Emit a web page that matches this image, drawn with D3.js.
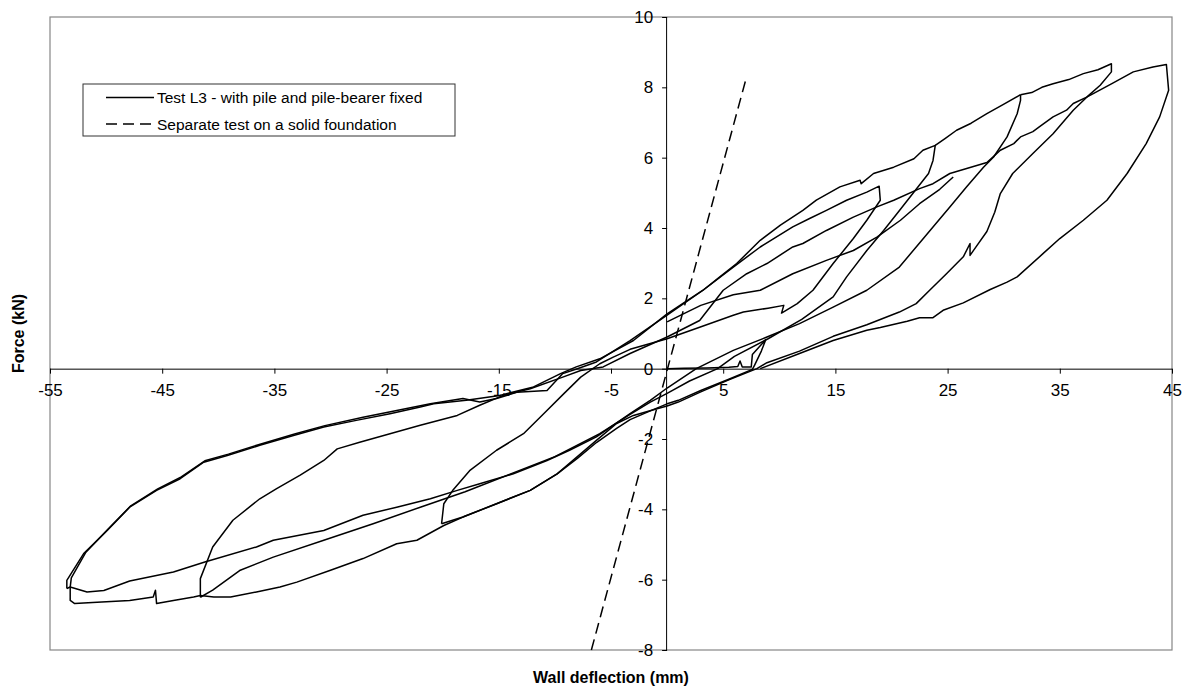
<!DOCTYPE html>
<html>
<head>
<meta charset="utf-8">
<script src="https://cdn.jsdelivr.net/npm/d3@7"></script>
<style>
  html, body { margin: 0; padding: 0; background: #fff; }
  svg text { font-family: "Liberation Sans", Arial, sans-serif; }
</style>
</head>
<body>
<svg id="chart" width="1189" height="691"></svg>
<script>
// ---------- data (x = wall deflection mm, y = force kN) ----------
const xTicks = [-55, -45, -35, -25, -15, -5, 5, 15, 25, 35, 45];
const yTicks = [-8, -6, -4, -2, 0, 2, 4, 6, 8, 10];
const legendLabels = ["Test L3 - with pile and pile-bearer fixed", "Separate test on a solid foundation"];
const xTitle = "Wall deflection (mm)";
const yTitle = "Force (kN)";

// Test L3 hysteresis
const initialCycle = [[0,0],[1.5,0.01],[3.5,0.02],[5.5,0.04],[6.3,0.06],[6.5,0.22],[6.7,0.05],[7.5,0.05],[7.6,0.4],[8.3,0.65],[8.8,0.83],[8.4,0.5],[7.8,0.1],[7.6,-0.02],
  [5.5,-0.3],[3,-0.62],[1,-0.9],[0,-1.0],[-1.5,-1.2],[-3.3,-1.45],[-4.5,-1.7],[-6.3,-2.1],[-8,-2.55],[-9.8,-2.99],[-12.2,-3.46],[-15.2,-3.84],[-18.2,-4.22],[-20.1,-4.41]];

const cycleA = [[-20.1,-4.41],[-19.9,-3.84],[-19.1,-3.46],[-17.6,-2.9],[-15.2,-2.32],[-12.8,-1.85],[-11,-1.28],[-9.2,-0.71],[-7.7,-0.24],[-6,0.14],[-4.8,0.33],[-3.3,0.55],[0,0.85],[2.9,1.18],[5.9,1.52],[6.8,1.61],[9,1.72],[10.4,1.8],[10.2,1.58],[11.6,1.85],[13,2.23],[14.8,2.99],[16.6,3.7],[17.8,4.22],[19,4.79],[18.9,5.19],
  [17.8,5.02],[16,4.79],[14.2,4.5],[12.7,4.27],[11.2,4.03],[8.3,3.46],[5.9,2.89],[3.2,2.23],[0,1.56],[-3,0.8],[-6,0.28],[-8.1,0.05],[-9.5,-0.14],[-11.9,-0.52],[-14.9,-0.76],[-17.9,-0.9],[-20.8,-1.0],[-22,-1.09],[-24.7,-1.28],[-27.7,-1.47],[-30.6,-1.66],[-33.3,-1.9],[-36.3,-2.18],[-39.2,-2.47],[-41.3,-2.66],[-43.4,-3.13],[-45.5,-3.46],[-47.9,-3.94],[-49.9,-4.6],[-52,-5.26],[-53.5,-6.02],[-53.5,-6.25]];

const cycleC = [[-53.5,-6.25],[-53.2,-6.21],[-51.7,-6.35],[-50.2,-6.31],[-47.9,-6.04],[-44,-5.78],[-41.2,-5.5],[-36.6,-5.07],[-35.1,-4.88],[-30.6,-4.6],[-27.1,-4.17],[-24.1,-3.94],[-21.1,-3.7],[-18.7,-3.46],[-16.7,-3.27],[-13.7,-2.99],[-10.7,-2.61],[-8.7,-2.32],[-6.3,-1.94],[-3.3,-1.28],[-1.5,-0.9],[0,-0.55],[2.6,0],[5.9,0.52],[8.9,0.9],[11.8,1.28],[14.8,1.75],[17.8,2.23],[20.7,2.89],[22.2,3.46],[23.7,4.03],[25.2,4.6],[26.7,5.17],[28.2,5.73],[29.1,6.02],[30.3,6.59],[31.2,7.25],[31.5,7.63],[31.5,7.79]];

const cycleD = [[31.5,7.79],[32.5,7.85],[33.4,8.0],[34.4,8.1],[35.8,8.22],[37.1,8.39],[38.4,8.5],[39.6,8.67],[39.6,8.44],[38.6,8.06],[37.4,7.72],[36.2,7.35],[34.4,6.68],[32.6,6.12],[30.8,5.55],[29.7,4.98],[29.2,4.45],[28.5,3.9],[27.5,3.45],[27.0,3.22],[27.0,3.56],[26.4,3.18],[24.9,2.7],[23.4,2.23],[22.2,1.85],[20.7,1.61],[17.8,1.25],[14.8,0.92],[11.8,0.5],[8.9,0.17],[8,0],[5.5,-0.32],[3,-0.66],[1,-0.95],[0,-1.06],[-0.9,-1.14],[-3,-1.33],[-4.5,-1.56],[-6.3,-2.04],[-9.8,-2.99],[-12.2,-3.46],[-15.2,-3.84],[-18.2,-4.22],[-19.9,-4.46],[-22.3,-4.88],[-24.1,-4.98],[-27.1,-5.4],[-30,-5.73],[-33,-6.07],[-34.5,-6.21],[-36.6,-6.35],[-38.9,-6.49],[-40.4,-6.49],[-41.6,-6.45],[-42.2,-6.49],[-44,-6.59],[-45.5,-6.68],[-45.6,-6.3],[-45.8,-6.49],[-47.9,-6.59],[-50.8,-6.64],[-52.8,-6.68],[-53.2,-6.59],[-53.2,-6.21]];

const cycleB = [[-53.2,-6.21],[-53.1,-5.95],[-51.8,-5.22],[-49.8,-4.55],[-47.8,-3.9],[-45.4,-3.42],[-43.3,-3.08],[-41.2,-2.62],[-39.1,-2.43],[-36.2,-2.14],[-33.2,-1.86],[-30.5,-1.62],[-27.1,-1.38],[-24.1,-1.19],[-21.1,-1.0],[-18.2,-0.85],[-16.7,-0.95],[-15.2,-0.85],[-13.4,-0.67],[-10.7,-0.62],[-9.3,-0.14],[-8,0],[-6.3,0.19],[-3.3,0.8],[0,1.52],[3.2,2.23],[4.7,2.61],[6.2,2.99],[8.3,3.65],[10.1,4.08],[12.1,4.5],[13.3,4.79],[15.4,5.17],[17.2,5.36],[17.3,5.26],[18.4,5.55],[20.2,5.73],[22,5.97],[22.8,6.21],[23.9,6.35],
  [23.7,5.92],[23.3,5.55],[21.9,4.98],[20.5,4.41],[19.3,3.93],[17.8,3.36],[16,2.61],[14.8,2.04],[12,1.4],[9,0.85],[6,0.35],[4.5,0],[2,-0.35],[0,-0.7],[-1.5,-0.95],[-3.3,-1.3],[-6,-1.85],[-10,-2.5],[-14,-3.0],[-18,-3.5],[-22,-3.94],[-26.2,-4.41],[-30.6,-4.88],[-35.1,-5.36],[-38.1,-5.74],[-39.3,-6.02],[-40.5,-6.3],[-41.6,-6.5]];

const cycleE = [[-41.6,-6.5],[-41.6,-5.97],[-40.5,-5.07],[-38.7,-4.31],[-36.3,-3.7],[-34.8,-3.41],[-32.7,-3.03],[-30.6,-2.61],[-29.4,-2.28],[-27.4,-2.09],[-24.7,-1.85],[-22,-1.61],[-18.7,-1.33],[-16.7,-1.04],[-14.6,-0.76],[-12.2,-0.57],[-9.3,-0.24],[-7.7,-0.05],[-5.7,0.05],[-3.3,0.43],[0,0.9],[2.9,1.37],[5,2.23],[7.1,2.7],[8.9,2.99],[11.2,3.46],[12.1,3.56],[14.2,3.93],[16.6,4.31],[18.7,4.6],[20.2,4.79],[22.5,5.12],[23.7,5.26],[25.2,5.55],[26.7,5.69],[28.5,5.86],[29.7,6.21],[30.9,6.4],[31.5,6.59],[32.6,6.74],[33.2,6.88],[34.4,7.16],[35.6,7.35],[36.2,7.54],[37.4,7.72],[39.6,8.1],[41.55,8.44],[43.3,8.58],[44.5,8.65],
  [44.7,7.92],[43.9,7.16],[42.7,6.4],[41,5.55],[39.2,4.79],[37.1,4.22],[35,3.7],[33.5,3.27],[31.2,2.61],[30.3,2.46],[28.8,2.25],[26.4,1.87],[24.6,1.66],[23.7,1.45],[22.5,1.45],[21.4,1.35],[19,1.17],[17.8,1.09],[14.8,0.8],[11.8,0.43],[8.3,0]];

// upper envelope from peak B to peak C
const envelopeBC = [[23.9,6.35],[24.8,6.55],[25.8,6.78],[27.1,6.98],[28.5,7.25],[29.9,7.5],[31.5,7.79]];

const extraReload = [[0,1.33],[3,1.8],[5.9,2.1],[8.3,2.23],[11.2,2.7],[14.2,3.08],[16.6,3.36],[18.7,3.74],[20.8,4.22],[22.5,4.69],[24.3,5.1],[25.5,5.45]];

const testSeries = [initialCycle, cycleA, cycleC, cycleD, cycleB, cycleE, envelopeBC, extraReload];

// separate test on a solid foundation (straight dashed line)
const solidX = [-6.75, 7.04];
const solidY = [-8.0, 8.25];

// ---------- drawing ----------
const svg = d3.select("#chart");
const W = 1189, H = 691;
const plot = {left: 50, right: 1172, top: 17, bottom: 650};

const x = d3.scaleLinear().domain([-55, 45]).range([plot.left, plot.right]);
const y = d3.scaleLinear().domain([-8, 10]).range([plot.bottom, plot.top]);

svg.append("rect").attr("width", W).attr("height", H).attr("fill", "#fff");

// plot frame
svg.append("rect")
  .attr("x", plot.left).attr("y", plot.top)
  .attr("width", plot.right - plot.left).attr("height", plot.bottom - plot.top)
  .attr("fill", "none").attr("stroke", "#868686").attr("stroke-width", 1.2);

const fmt = d => String(d);

// x axis through y = 0
const xAxis = d3.axisBottom(x).tickValues(xTicks).tickSize(5).tickPadding(10).tickFormat(fmt);
const gx = svg.append("g").attr("transform", `translate(0,${y(0)})`).call(xAxis);
gx.select(".domain").attr("stroke", "#000").attr("stroke-width", 1).attr("d", `M${plot.left},0.5H${plot.right}`);
gx.selectAll(".tick line").attr("stroke", "#000");
gx.selectAll(".tick text").attr("font-size", 17).attr("fill", "#000")
  .attr("font-family", '"Liberation Sans", Arial, sans-serif');

// y axis through x = 0
const yAxis = d3.axisLeft(y).tickValues(yTicks).tickSize(5).tickPadding(9).tickFormat(fmt);
const gy = svg.append("g").attr("transform", `translate(${x(0)},0)`).call(yAxis);
gy.select(".domain").attr("stroke", "#000").attr("stroke-width", 1).attr("d", `M-0.5,${plot.top}V${plot.bottom}`);
gy.selectAll(".tick line").attr("stroke", "#000");
gy.selectAll(".tick text").attr("font-size", 17).attr("fill", "#000")
  .attr("font-family", '"Liberation Sans", Arial, sans-serif');

// data lines
const line = d3.line().x(d => x(d[0])).y(d => y(d[1]));
svg.append("g").selectAll("path").data(testSeries).join("path")
  .attr("d", line).attr("fill", "none").attr("stroke", "#000")
  .attr("stroke-width", 1.5).attr("stroke-linejoin", "round");

svg.append("path")
  .datum(solidX.map((v, i) => [v, solidY[i]]))
  .attr("d", line).attr("fill", "none").attr("stroke", "#000")
  .attr("stroke-width", 1.5).attr("stroke-dasharray", "11,6");

// legend
const lg = svg.append("g");
lg.append("rect").attr("x", 83).attr("y", 84).attr("width", 372).attr("height", 52)
  .attr("fill", "#fff").attr("stroke", "#333").attr("stroke-width", 1);
const rows = [{dash: null, yy: 97.5}, {dash: "11,6", yy: 124}];
rows.forEach((r, i) => {
  lg.append("line").attr("x1", 106).attr("x2", 154).attr("y1", r.yy).attr("y2", r.yy)
    .attr("stroke", "#000").attr("stroke-width", 1.5).attr("stroke-dasharray", r.dash);
  lg.append("text").attr("x", 157).attr("y", r.yy).attr("dy", "0.36em")
    .attr("font-size", 15.5).text(legendLabels[i]);
});

// axis titles
svg.append("text").attr("x", (plot.left + plot.right) / 2).attr("y", 683)
  .attr("text-anchor", "middle").attr("font-weight", "bold").attr("font-size", 16).text(xTitle);
svg.append("text").attr("transform", `translate(24,${(plot.top + plot.bottom) / 2}) rotate(-90)`)
  .attr("text-anchor", "middle").attr("font-weight", "bold").attr("font-size", 16).text(yTitle);
</script>
</body>
</html>
